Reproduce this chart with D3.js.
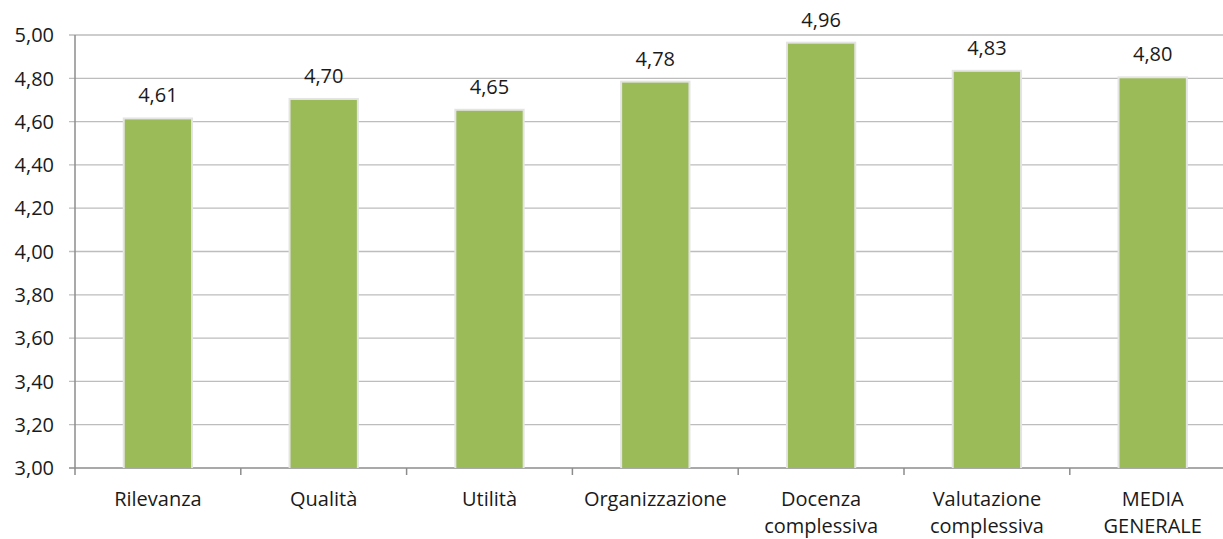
<!DOCTYPE html>
<html>
<head>
<meta charset="utf-8">
<script src="https://cdn.jsdelivr.net/npm/d3@7"></script>
<style>
  body { margin: 0; background: #fff; }
  svg { display: block; font-family: "Open Sans", "Noto Sans", sans-serif; }
</style>
</head>
<body>
<div id="chart"><svg width="1223" height="539"></svg></div>
<script>
const categories = [
    ["Rilevanza"],
    ["Qualità"],
    ["Utilità"],
    ["Organizzazione"],
    ["Docenza", "complessiva"],
    ["Valutazione", "complessiva"],
    ["MEDIA", "GENERALE"]
];
const values = [4.61, 4.70, 4.65, 4.78, 4.96, 4.83, 4.80];
const yTicks = [3.0, 3.2, 3.4, 3.6, 3.8, 4.0, 4.2, 4.4, 4.6, 4.8, 5.0];

const svg = d3.select("#chart").select("svg");
const plotLeft = 75, plotTop = 35, plotBottom = 468;
const bandW = 165.8;
const plotRight = plotLeft + bandW * categories.length; // runs past the window edge, like the original
const fontSize = 20;

const fmt = v => v.toFixed(2).replace(".", ",");

const x = d3.scaleBand()
    .domain(d3.range(categories.length))
    .range([plotLeft, plotRight])
    .paddingInner(0.6)
    .paddingOuter(0.3);

const y = d3.scaleLinear().domain([3, 5]).range([plotBottom, plotTop]);

// gridlines
svg.append("g")
    .selectAll("line")
    .data(yTicks)
    .join("line")
    .attr("x1", plotLeft - 6)
    .attr("x2", plotRight)
    .attr("y1", d => y(d))
    .attr("y2", d => y(d))
    .attr("stroke", d => d === 3 ? "#8c8c8c" : "#bdbdbd")
    .attr("stroke-width", d => d === 3 ? 1.5 : 1.3);

// y axis line + labels
svg.append("line")
    .attr("x1", plotLeft).attr("x2", plotLeft)
    .attr("y1", plotTop).attr("y2", plotBottom)
    .attr("stroke", "#8c8c8c")
    .attr("stroke-width", 1.5);

svg.append("g")
    .selectAll("text")
    .data(yTicks)
    .join("text")
    .attr("x", 54)
    .attr("y", d => y(d))
    .attr("dy", "0.36em")
    .attr("text-anchor", "end")
    .attr("font-size", fontSize)
    .attr("fill", "#1a1a1a")
    .text(fmt);

// category separators on the x axis
svg.append("g")
    .selectAll("line")
    .data(d3.range(categories.length + 1))
    .join("line")
    .attr("x1", i => plotLeft + i * bandW)
    .attr("x2", i => plotLeft + i * bandW)
    .attr("y1", plotBottom)
    .attr("y2", plotBottom + 7)
    .attr("stroke", "#8c8c8c")
    .attr("stroke-width", 1.5);

// bars with a pale glow border
const bars = svg.append("g");
bars.selectAll("rect.glow")
    .data(values)
    .join("rect")
    .attr("class", "glow")
    .attr("x", (d, i) => x(i) - 2)
    .attr("y", d => y(d) - 2)
    .attr("width", x.bandwidth() + 4)
    .attr("height", d => plotBottom - y(d) + 2)
    .attr("fill", "#e4e4e4");

bars.selectAll("rect.bar")
    .data(values)
    .join("rect")
    .attr("class", "bar")
    .attr("x", (d, i) => x(i))
    .attr("y", d => y(d))
    .attr("width", x.bandwidth())
    .attr("height", d => plotBottom - y(d))
    .attr("fill", "#9bbb59");

// value labels
svg.append("g")
    .selectAll("text")
    .data(values)
    .join("text")
    .attr("x", (d, i) => x(i) + x.bandwidth() / 2)
    .attr("y", d => y(d) - 17)
    .attr("text-anchor", "middle")
    .attr("font-size", fontSize)
    .attr("fill", "#1a1a1a")
    .text(fmt);

// category labels
const cat = svg.append("g")
    .selectAll("text")
    .data(categories)
    .join("text")
    .attr("x", (d, i) => x(i) + x.bandwidth() / 2)
    .attr("y", 506)
    .attr("text-anchor", "middle")
    .attr("font-size", fontSize)
    .attr("fill", "#1a1a1a");

cat.selectAll("tspan")
    .data(d => d)
    .join("tspan")
    .attr("x", function () { return d3.select(this.parentNode).attr("x"); })
    .attr("dy", (d, i) => i === 0 ? 0 : 27)
    .text(d => d);
</script>
</body>
</html>
